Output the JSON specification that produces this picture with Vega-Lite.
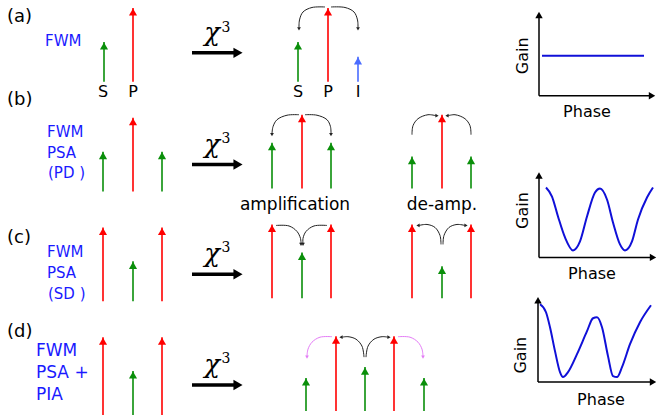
{
  "$schema": "https://vega.github.io/schema/vega-lite/v6.json",
  "width": 657,
  "height": 416,
  "autosize": {"type": "fit", "contains": "padding"},
  "padding": 0,
  "background": "white",
  "config": {"view": {"stroke": null}},
  "datasets": {
    "arrows": [
      {"x": 104, "y": 82, "tip": 42, "kind": "signal"},
      {"x": 133, "y": 82, "tip": 8, "kind": "pump"},
      {"x": 298, "y": 82, "tip": 42, "kind": "signal"},
      {"x": 328, "y": 82, "tip": 8, "kind": "pump"},
      {"x": 358, "y": 82, "tip": 57, "kind": "idler"},
      {"x": 103, "y": 192, "tip": 152, "kind": "signal"},
      {"x": 133, "y": 192, "tip": 118, "kind": "pump"},
      {"x": 162, "y": 192, "tip": 152, "kind": "signal"},
      {"x": 272, "y": 189, "tip": 143, "kind": "signal"},
      {"x": 302, "y": 189, "tip": 115, "kind": "pump"},
      {"x": 331, "y": 189, "tip": 143, "kind": "signal"},
      {"x": 412, "y": 189, "tip": 157, "kind": "signal"},
      {"x": 442, "y": 189, "tip": 115, "kind": "pump"},
      {"x": 471, "y": 189, "tip": 157, "kind": "signal"},
      {"x": 103, "y": 302, "tip": 228, "kind": "pump"},
      {"x": 133, "y": 302, "tip": 262, "kind": "signal"},
      {"x": 162, "y": 302, "tip": 228, "kind": "pump"},
      {"x": 272, "y": 299, "tip": 225, "kind": "pump"},
      {"x": 302, "y": 299, "tip": 253, "kind": "signal"},
      {"x": 331, "y": 299, "tip": 225, "kind": "pump"},
      {"x": 412, "y": 299, "tip": 225, "kind": "pump"},
      {"x": 442, "y": 299, "tip": 267, "kind": "signal"},
      {"x": 471, "y": 299, "tip": 225, "kind": "pump"},
      {"x": 103, "y": 416, "tip": 338, "kind": "pump"},
      {"x": 133, "y": 416, "tip": 372, "kind": "signal"},
      {"x": 162, "y": 416, "tip": 338, "kind": "pump"},
      {"x": 306, "y": 412, "tip": 379, "kind": "signal"},
      {"x": 336, "y": 412, "tip": 337, "kind": "pump"},
      {"x": 365, "y": 412, "tip": 368, "kind": "signal"},
      {"x": 394, "y": 412, "tip": 337, "kind": "pump"},
      {"x": 424, "y": 412, "tip": 379, "kind": "signal"}
    ],
    "chi": [
      {"x": 192, "x2": 236, "y": 53},
      {"x": 192, "x2": 236, "y": 165},
      {"x": 192, "x2": 236, "y": 275},
      {"x": 192, "x2": 236, "y": 386}
    ],
    "axes": [
      {"x": 539, "y": 96, "x2": 539, "y2": 15},
      {"x": 539, "y": 96, "x2": 651, "y2": 96},
      {"x": 539, "y": 258, "x2": 539, "y2": 176},
      {"x": 539, "y": 258, "x2": 652, "y2": 258},
      {"x": 538, "y": 383, "x2": 538, "y2": 301},
      {"x": 538, "y": 383, "x2": 652, "y2": 383}
    ],
    "heads": [
      {"x": 238, "y": 53, "dir": "right", "grp": "chi", "kind": "black"},
      {"x": 238, "y": 165, "dir": "right", "grp": "chi", "kind": "black"},
      {"x": 238, "y": 275, "dir": "right", "grp": "chi", "kind": "black"},
      {"x": 238, "y": 386, "dir": "right", "grp": "chi", "kind": "black"},
      {"x": 539, "y": 15, "dir": "up", "grp": "ax", "kind": "black"},
      {"x": 652, "y": 96, "dir": "right", "grp": "ax", "kind": "black"},
      {"x": 539, "y": 176, "dir": "up", "grp": "ax", "kind": "black"},
      {"x": 653, "y": 258, "dir": "right", "grp": "ax", "kind": "black"},
      {"x": 538, "y": 301, "dir": "up", "grp": "ax", "kind": "black"},
      {"x": 653, "y": 383, "dir": "right", "grp": "ax", "kind": "black"},
      {"x": 299, "y": 29, "dir": "down", "grp": "arc", "kind": "black"},
      {"x": 358, "y": 29, "dir": "down", "grp": "arc", "kind": "black"},
      {"x": 272, "y": 135, "dir": "down", "grp": "arc", "kind": "black"},
      {"x": 331, "y": 135, "dir": "down", "grp": "arc", "kind": "black"},
      {"x": 437, "y": 116, "dir": "right", "grp": "arc", "kind": "black"},
      {"x": 447, "y": 116, "dir": "left", "grp": "arc", "kind": "black"},
      {"x": 301, "y": 245, "dir": "down", "grp": "arc", "kind": "black"},
      {"x": 303, "y": 245, "dir": "down", "grp": "arc", "kind": "black"},
      {"x": 418, "y": 226, "dir": "left", "grp": "arc", "kind": "black"},
      {"x": 466, "y": 226, "dir": "right", "grp": "arc", "kind": "black"},
      {"x": 341, "y": 338, "dir": "left", "grp": "arc", "kind": "black"},
      {"x": 389, "y": 338, "dir": "right", "grp": "arc", "kind": "black"},
      {"x": 307, "y": 358, "dir": "down", "grp": "arc", "kind": "magenta"},
      {"x": 423, "y": 358, "dir": "down", "grp": "arc", "kind": "magenta"}
    ],
    "arcs": [
      {"id": "aL", "i": 0, "x": 325, "y": 7, "kind": "black"},
      {"id": "aL", "i": 1, "x": 312, "y": 7.5, "kind": "black"},
      {"id": "aL", "i": 2, "x": 303, "y": 12, "kind": "black"},
      {"id": "aL", "i": 3, "x": 299.5, "y": 20, "kind": "black"},
      {"id": "aL", "i": 4, "x": 299, "y": 28, "kind": "black"},
      {"id": "aR", "i": 0, "x": 331, "y": 7, "kind": "black"},
      {"id": "aR", "i": 1, "x": 345, "y": 7.5, "kind": "black"},
      {"id": "aR", "i": 2, "x": 354, "y": 12, "kind": "black"},
      {"id": "aR", "i": 3, "x": 357.5, "y": 20, "kind": "black"},
      {"id": "aR", "i": 4, "x": 358, "y": 28, "kind": "black"},
      {"id": "bL", "i": 0, "x": 299, "y": 115, "kind": "black"},
      {"id": "bL", "i": 1, "x": 287, "y": 115.5, "kind": "black"},
      {"id": "bL", "i": 2, "x": 277, "y": 120, "kind": "black"},
      {"id": "bL", "i": 3, "x": 273, "y": 127, "kind": "black"},
      {"id": "bL", "i": 4, "x": 272, "y": 134, "kind": "black"},
      {"id": "bR", "i": 0, "x": 305, "y": 115, "kind": "black"},
      {"id": "bR", "i": 1, "x": 317, "y": 115.5, "kind": "black"},
      {"id": "bR", "i": 2, "x": 327, "y": 120, "kind": "black"},
      {"id": "bR", "i": 3, "x": 330.5, "y": 127, "kind": "black"},
      {"id": "bR", "i": 4, "x": 331, "y": 134, "kind": "black"},
      {"id": "dL", "i": 0, "x": 412, "y": 135, "kind": "black"},
      {"id": "dL", "i": 1, "x": 413, "y": 126, "kind": "black"},
      {"id": "dL", "i": 2, "x": 418, "y": 119, "kind": "black"},
      {"id": "dL", "i": 3, "x": 428, "y": 115, "kind": "black"},
      {"id": "dL", "i": 4, "x": 436, "y": 116, "kind": "black"},
      {"id": "dR", "i": 0, "x": 471, "y": 135, "kind": "black"},
      {"id": "dR", "i": 1, "x": 470, "y": 126, "kind": "black"},
      {"id": "dR", "i": 2, "x": 465, "y": 119, "kind": "black"},
      {"id": "dR", "i": 3, "x": 455, "y": 115, "kind": "black"},
      {"id": "dR", "i": 4, "x": 448, "y": 116, "kind": "black"},
      {"id": "cL", "i": 0, "x": 276, "y": 226, "kind": "black"},
      {"id": "cL", "i": 1, "x": 289, "y": 226.5, "kind": "black"},
      {"id": "cL", "i": 2, "x": 297, "y": 232, "kind": "black"},
      {"id": "cL", "i": 3, "x": 300.5, "y": 239, "kind": "black"},
      {"id": "cL", "i": 4, "x": 301, "y": 244, "kind": "black"},
      {"id": "cR", "i": 0, "x": 327, "y": 226, "kind": "black"},
      {"id": "cR", "i": 1, "x": 314, "y": 226.5, "kind": "black"},
      {"id": "cR", "i": 2, "x": 306, "y": 232, "kind": "black"},
      {"id": "cR", "i": 3, "x": 303, "y": 239, "kind": "black"},
      {"id": "cR", "i": 4, "x": 303, "y": 244, "kind": "black"},
      {"id": "eL", "i": 0, "x": 441, "y": 245, "kind": "black"},
      {"id": "eL", "i": 1, "x": 440, "y": 236, "kind": "black"},
      {"id": "eL", "i": 2, "x": 435, "y": 228, "kind": "black"},
      {"id": "eL", "i": 3, "x": 427, "y": 225, "kind": "black"},
      {"id": "eL", "i": 4, "x": 419, "y": 226, "kind": "black"},
      {"id": "eR", "i": 0, "x": 443, "y": 245, "kind": "black"},
      {"id": "eR", "i": 1, "x": 444, "y": 236, "kind": "black"},
      {"id": "eR", "i": 2, "x": 449, "y": 228, "kind": "black"},
      {"id": "eR", "i": 3, "x": 457, "y": 225, "kind": "black"},
      {"id": "eR", "i": 4, "x": 465, "y": 226, "kind": "black"},
      {"id": "fL", "i": 0, "x": 364, "y": 358, "kind": "black"},
      {"id": "fL", "i": 1, "x": 362, "y": 347, "kind": "black"},
      {"id": "fL", "i": 2, "x": 356, "y": 340, "kind": "black"},
      {"id": "fL", "i": 3, "x": 348, "y": 337.5, "kind": "black"},
      {"id": "fL", "i": 4, "x": 342, "y": 338, "kind": "black"},
      {"id": "fR", "i": 0, "x": 366, "y": 358, "kind": "black"},
      {"id": "fR", "i": 1, "x": 368, "y": 347, "kind": "black"},
      {"id": "fR", "i": 2, "x": 374, "y": 340, "kind": "black"},
      {"id": "fR", "i": 3, "x": 382, "y": 337.5, "kind": "black"},
      {"id": "fR", "i": 4, "x": 388, "y": 338, "kind": "black"},
      {"id": "mL", "i": 0, "x": 332, "y": 337.5, "kind": "magenta"},
      {"id": "mL", "i": 1, "x": 320, "y": 338, "kind": "magenta"},
      {"id": "mL", "i": 2, "x": 312, "y": 343, "kind": "magenta"},
      {"id": "mL", "i": 3, "x": 308, "y": 350, "kind": "magenta"},
      {"id": "mL", "i": 4, "x": 307, "y": 357, "kind": "magenta"},
      {"id": "mR", "i": 0, "x": 398, "y": 337.5, "kind": "magenta"},
      {"id": "mR", "i": 1, "x": 410, "y": 338, "kind": "magenta"},
      {"id": "mR", "i": 2, "x": 418, "y": 343, "kind": "magenta"},
      {"id": "mR", "i": 3, "x": 422, "y": 350, "kind": "magenta"},
      {"id": "mR", "i": 4, "x": 423, "y": 357, "kind": "magenta"}
    ],
    "gain": [
      {"id": "a", "i": 0, "x": 542, "y": 56},
      {"id": "a", "i": 1, "x": 644, "y": 56},
      {"id": "b", "i": 0, "x": 546, "y": 188},
      {"id": "b", "i": 1, "x": 552, "y": 197},
      {"id": "b", "i": 2, "x": 558, "y": 217},
      {"id": "b", "i": 3, "x": 565, "y": 238},
      {"id": "b", "i": 4, "x": 573, "y": 251},
      {"id": "b", "i": 5, "x": 580, "y": 242},
      {"id": "b", "i": 6, "x": 587, "y": 217},
      {"id": "b", "i": 7, "x": 595, "y": 193},
      {"id": "b", "i": 8, "x": 600, "y": 189},
      {"id": "b", "i": 9, "x": 607, "y": 200},
      {"id": "b", "i": 10, "x": 613, "y": 223},
      {"id": "b", "i": 11, "x": 620, "y": 245},
      {"id": "b", "i": 12, "x": 625, "y": 251},
      {"id": "b", "i": 13, "x": 632, "y": 242},
      {"id": "b", "i": 14, "x": 638, "y": 220},
      {"id": "b", "i": 15, "x": 647, "y": 198},
      {"id": "b", "i": 16, "x": 653, "y": 188},
      {"id": "d", "i": 0, "x": 540, "y": 305},
      {"id": "d", "i": 1, "x": 546, "y": 313},
      {"id": "d", "i": 2, "x": 550, "y": 328},
      {"id": "d", "i": 3, "x": 555, "y": 352},
      {"id": "d", "i": 4, "x": 560, "y": 373},
      {"id": "d", "i": 5, "x": 563, "y": 378},
      {"id": "d", "i": 6, "x": 568, "y": 373},
      {"id": "d", "i": 7, "x": 577, "y": 355},
      {"id": "d", "i": 8, "x": 587, "y": 332},
      {"id": "d", "i": 9, "x": 593, "y": 319},
      {"id": "d", "i": 10, "x": 597, "y": 318},
      {"id": "d", "i": 11, "x": 602, "y": 328},
      {"id": "d", "i": 12, "x": 608, "y": 357},
      {"id": "d", "i": 13, "x": 613, "y": 377},
      {"id": "d", "i": 14, "x": 617, "y": 378},
      {"id": "d", "i": 15, "x": 622, "y": 368},
      {"id": "d", "i": 16, "x": 630, "y": 345},
      {"id": "d", "i": 17, "x": 640, "y": 323},
      {"id": "d", "i": 18, "x": 651, "y": 306}
    ],
    "texts": [
      {"t": "(a)", "x": 7, "y": 17, "st": "panel"},
      {"t": "(b)", "x": 7, "y": 100, "st": "panel"},
      {"t": "(c)", "x": 7, "y": 239, "st": "panel"},
      {"t": "(d)", "x": 7, "y": 333, "st": "panel"},
      {"t": "FWM", "x": 45, "y": 41, "st": "blue"},
      {"t": "FWM", "x": 47, "y": 132, "st": "blue"},
      {"t": "PSA", "x": 47, "y": 153, "st": "blue"},
      {"t": "(PD )", "x": 48, "y": 173, "st": "blue"},
      {"t": "FWM", "x": 47, "y": 253, "st": "blue"},
      {"t": "PSA", "x": 47, "y": 274, "st": "blue"},
      {"t": "(SD )", "x": 48, "y": 295, "st": "blue"},
      {"t": "FWM", "x": 36, "y": 352, "st": "blueL"},
      {"t": "PSA +", "x": 36, "y": 374, "st": "blueL"},
      {"t": "PIA", "x": 36, "y": 396, "st": "blueL"},
      {"t": "S", "x": 103, "y": 92, "st": "lab"},
      {"t": "P", "x": 133, "y": 92, "st": "lab"},
      {"t": "S", "x": 298, "y": 92, "st": "lab"},
      {"t": "P", "x": 328, "y": 92, "st": "lab"},
      {"t": "I", "x": 358, "y": 92, "st": "lab"},
      {"t": "amplification", "x": 295, "y": 205, "st": "amp"},
      {"t": "de-amp.", "x": 442, "y": 205, "st": "amp"},
      {"t": "Gain", "x": 523, "y": 56, "st": "gain"},
      {"t": "Gain", "x": 523, "y": 211, "st": "gain"},
      {"t": "Gain", "x": 521, "y": 356, "st": "gain"},
      {"t": "Phase", "x": 587, "y": 112, "st": "phase"},
      {"t": "Phase", "x": 592, "y": 275, "st": "phase"},
      {"t": "Phase", "x": 601, "y": 401, "st": "phase"},
      {"t": "χ", "x": 212, "y": 41, "st": "chi"},
      {"t": "χ", "x": 212, "y": 153, "st": "chi"},
      {"t": "χ", "x": 212, "y": 263, "st": "chi"},
      {"t": "χ", "x": 212, "y": 374, "st": "chi"},
      {"t": "3", "x": 226, "y": 32, "st": "three"},
      {"t": "3", "x": 226, "y": 143, "st": "three"},
      {"t": "3", "x": 226, "y": 253, "st": "three"},
      {"t": "3", "x": 226, "y": 364, "st": "three"}
    ]
  },
  "layer": [
    {
      "data": {"name": "gain"},
      "mark": {"type": "line", "interpolate": "monotone", "color": "#1010d8", "strokeWidth": 2},
      "encoding": {
        "x": {"field": "x", "type": "quantitative", "scale": {"domain": [0, 657], "nice": false, "zero": false}, "axis": null},
        "y": {"field": "y", "type": "quantitative", "scale": {"domain": [0, 416], "nice": false, "zero": false, "reverse": true}, "axis": null},
        "detail": {"field": "id"},
        "order": {"field": "i", "type": "quantitative"}
      }
    },
    {
      "data": {"name": "arcs"},
      "mark": {"type": "line", "interpolate": "catmull-rom", "strokeWidth": 1},
      "encoding": {
        "x": {"field": "x", "type": "quantitative", "scale": {"domain": [0, 657], "nice": false, "zero": false}, "axis": null},
        "y": {"field": "y", "type": "quantitative", "scale": {"domain": [0, 416], "nice": false, "zero": false, "reverse": true}, "axis": null},
        "detail": {"field": "id"},
        "order": {"field": "i", "type": "quantitative"},
        "color": {"field": "kind", "type": "nominal", "scale": {"domain": ["signal", "pump", "idler", "black", "magenta"], "range": ["#0a8f0a", "#ff0000", "#4a6cff", "#222222", "#e47cf6"]}, "legend": null}
      }
    },
    {
      "data": {"name": "arrows"},
      "mark": {"type": "rule", "strokeWidth": 1.6},
      "encoding": {
        "x": {"field": "x", "type": "quantitative", "scale": {"domain": [0, 657], "nice": false, "zero": false}, "axis": null},
        "y": {"field": "y", "type": "quantitative", "scale": {"domain": [0, 416], "nice": false, "zero": false, "reverse": true}, "axis": null},
        "y2": {"field": "tip"},
        "color": {"field": "kind", "type": "nominal", "scale": {"domain": ["signal", "pump", "idler", "black", "magenta"], "range": ["#0a8f0a", "#ff0000", "#4a6cff", "#222222", "#e47cf6"]}, "legend": null}
      }
    },
    {
      "data": {"name": "arrows"},
      "mark": {"type": "point", "shape": "triangle-up", "filled": true, "opacity": 1, "size": 66, "yOffset": 4},
      "encoding": {
        "x": {"field": "x", "type": "quantitative", "scale": {"domain": [0, 657], "nice": false, "zero": false}, "axis": null},
        "y": {"field": "tip", "type": "quantitative", "scale": {"domain": [0, 416], "nice": false, "zero": false, "reverse": true}, "axis": null},
        "color": {"field": "kind", "type": "nominal", "scale": {"domain": ["signal", "pump", "idler", "black", "magenta"], "range": ["#0a8f0a", "#ff0000", "#4a6cff", "#222222", "#e47cf6"]}, "legend": null}
      }
    },
    {
      "data": {"name": "chi"},
      "mark": {"type": "rule", "strokeWidth": 3.5, "color": "black"},
      "encoding": {
        "x": {"field": "x", "type": "quantitative", "scale": {"domain": [0, 657], "nice": false, "zero": false}, "axis": null},
        "x2": {"field": "x2"},
        "y": {"field": "y", "type": "quantitative", "scale": {"domain": [0, 416], "nice": false, "zero": false, "reverse": true}, "axis": null}
      }
    },
    {
      "data": {"name": "axes"},
      "mark": {"type": "rule", "strokeWidth": 1.5, "color": "black"},
      "encoding": {
        "x": {"field": "x", "type": "quantitative", "scale": {"domain": [0, 657], "nice": false, "zero": false}, "axis": null},
        "x2": {"field": "x2"},
        "y": {"field": "y", "type": "quantitative", "scale": {"domain": [0, 416], "nice": false, "zero": false, "reverse": true}, "axis": null},
        "y2": {"field": "y2"}
      }
    },
    {
      "data": {"name": "heads"},
      "transform": [{"filter": "datum.grp == 'chi'"}],
      "mark": {"type": "point", "filled": true, "opacity": 1, "size": 110, "color": "black"},
      "encoding": {
        "x": {"field": "x", "type": "quantitative", "scale": {"domain": [0, 657], "nice": false, "zero": false}, "axis": null},
        "y": {"field": "y", "type": "quantitative", "scale": {"domain": [0, 416], "nice": false, "zero": false, "reverse": true}, "axis": null},
        "shape": {"field": "dir", "type": "nominal", "scale": {"domain": ["up", "down", "left", "right"], "range": ["triangle-up", "triangle-down", "triangle-left", "triangle-right"]}, "legend": null}
      }
    },
    {
      "data": {"name": "heads"},
      "transform": [{"filter": "datum.grp == 'ax'"}],
      "mark": {"type": "point", "filled": true, "opacity": 1, "size": 55, "color": "black"},
      "encoding": {
        "x": {"field": "x", "type": "quantitative", "scale": {"domain": [0, 657], "nice": false, "zero": false}, "axis": null},
        "y": {"field": "y", "type": "quantitative", "scale": {"domain": [0, 416], "nice": false, "zero": false, "reverse": true}, "axis": null},
        "shape": {"field": "dir", "type": "nominal", "scale": {"domain": ["up", "down", "left", "right"], "range": ["triangle-up", "triangle-down", "triangle-left", "triangle-right"]}, "legend": null}
      }
    },
    {
      "data": {"name": "heads"},
      "transform": [{"filter": "datum.grp == 'arc'"}],
      "mark": {"type": "point", "filled": true, "opacity": 1, "size": 14},
      "encoding": {
        "x": {"field": "x", "type": "quantitative", "scale": {"domain": [0, 657], "nice": false, "zero": false}, "axis": null},
        "y": {"field": "y", "type": "quantitative", "scale": {"domain": [0, 416], "nice": false, "zero": false, "reverse": true}, "axis": null},
        "shape": {"field": "dir", "type": "nominal", "scale": {"domain": ["up", "down", "left", "right"], "range": ["triangle-up", "triangle-down", "triangle-left", "triangle-right"]}, "legend": null},
        "color": {"field": "kind", "type": "nominal", "scale": {"domain": ["signal", "pump", "idler", "black", "magenta"], "range": ["#0a8f0a", "#ff0000", "#4a6cff", "#222222", "#e47cf6"]}, "legend": null}
      }
    },
    {
      "data": {"name": "texts"},
      "transform": [{"filter": "datum.st == 'panel'"}],
      "mark": {"type": "text", "font": "DejaVu Sans", "fontSize": 18, "align": "left", "baseline": "middle", "color": "black"},
      "encoding": {
        "x": {"field": "x", "type": "quantitative", "scale": {"domain": [0, 657], "nice": false, "zero": false}, "axis": null},
        "y": {"field": "y", "type": "quantitative", "scale": {"domain": [0, 416], "nice": false, "zero": false, "reverse": true}, "axis": null},
        "text": {"field": "t"}
      }
    },
    {
      "data": {"name": "texts"},
      "transform": [{"filter": "datum.st == 'blue'"}],
      "mark": {"type": "text", "font": "DejaVu Sans", "fontSize": 15, "align": "left", "baseline": "middle", "color": "#1a1aff"},
      "encoding": {
        "x": {"field": "x", "type": "quantitative", "scale": {"domain": [0, 657], "nice": false, "zero": false}, "axis": null},
        "y": {"field": "y", "type": "quantitative", "scale": {"domain": [0, 416], "nice": false, "zero": false, "reverse": true}, "axis": null},
        "text": {"field": "t"}
      }
    },
    {
      "data": {"name": "texts"},
      "transform": [{"filter": "datum.st == 'blueL'"}],
      "mark": {"type": "text", "font": "DejaVu Sans", "fontSize": 17, "align": "left", "baseline": "middle", "color": "#1a1aff"},
      "encoding": {
        "x": {"field": "x", "type": "quantitative", "scale": {"domain": [0, 657], "nice": false, "zero": false}, "axis": null},
        "y": {"field": "y", "type": "quantitative", "scale": {"domain": [0, 416], "nice": false, "zero": false, "reverse": true}, "axis": null},
        "text": {"field": "t"}
      }
    },
    {
      "data": {"name": "texts"},
      "transform": [{"filter": "datum.st == 'lab'"}],
      "mark": {"type": "text", "font": "DejaVu Sans", "fontSize": 16, "align": "center", "baseline": "middle", "color": "black"},
      "encoding": {
        "x": {"field": "x", "type": "quantitative", "scale": {"domain": [0, 657], "nice": false, "zero": false}, "axis": null},
        "y": {"field": "y", "type": "quantitative", "scale": {"domain": [0, 416], "nice": false, "zero": false, "reverse": true}, "axis": null},
        "text": {"field": "t"}
      }
    },
    {
      "data": {"name": "texts"},
      "transform": [{"filter": "datum.st == 'amp'"}],
      "mark": {"type": "text", "font": "DejaVu Sans", "fontSize": 17, "align": "center", "baseline": "middle", "color": "black"},
      "encoding": {
        "x": {"field": "x", "type": "quantitative", "scale": {"domain": [0, 657], "nice": false, "zero": false}, "axis": null},
        "y": {"field": "y", "type": "quantitative", "scale": {"domain": [0, 416], "nice": false, "zero": false, "reverse": true}, "axis": null},
        "text": {"field": "t"}
      }
    },
    {
      "data": {"name": "texts"},
      "transform": [{"filter": "datum.st == 'gain'"}],
      "mark": {"type": "text", "font": "DejaVu Sans", "fontSize": 16, "align": "center", "baseline": "middle", "angle": 270, "color": "black"},
      "encoding": {
        "x": {"field": "x", "type": "quantitative", "scale": {"domain": [0, 657], "nice": false, "zero": false}, "axis": null},
        "y": {"field": "y", "type": "quantitative", "scale": {"domain": [0, 416], "nice": false, "zero": false, "reverse": true}, "axis": null},
        "text": {"field": "t"}
      }
    },
    {
      "data": {"name": "texts"},
      "transform": [{"filter": "datum.st == 'phase'"}],
      "mark": {"type": "text", "font": "DejaVu Sans", "fontSize": 16, "align": "center", "baseline": "middle", "color": "black"},
      "encoding": {
        "x": {"field": "x", "type": "quantitative", "scale": {"domain": [0, 657], "nice": false, "zero": false}, "axis": null},
        "y": {"field": "y", "type": "quantitative", "scale": {"domain": [0, 416], "nice": false, "zero": false, "reverse": true}, "axis": null},
        "text": {"field": "t"}
      }
    },
    {
      "data": {"name": "texts"},
      "transform": [{"filter": "datum.st == 'chi'"}],
      "mark": {"type": "text", "font": "DejaVu Serif", "fontStyle": "italic", "fontSize": 26, "align": "center", "baseline": "alphabetic", "color": "black"},
      "encoding": {
        "x": {"field": "x", "type": "quantitative", "scale": {"domain": [0, 657], "nice": false, "zero": false}, "axis": null},
        "y": {"field": "y", "type": "quantitative", "scale": {"domain": [0, 416], "nice": false, "zero": false, "reverse": true}, "axis": null},
        "text": {"field": "t"}
      }
    },
    {
      "data": {"name": "texts"},
      "transform": [{"filter": "datum.st == 'three'"}],
      "mark": {"type": "text", "font": "DejaVu Serif", "fontSize": 14, "align": "center", "baseline": "alphabetic", "color": "black"},
      "encoding": {
        "x": {"field": "x", "type": "quantitative", "scale": {"domain": [0, 657], "nice": false, "zero": false}, "axis": null},
        "y": {"field": "y", "type": "quantitative", "scale": {"domain": [0, 416], "nice": false, "zero": false, "reverse": true}, "axis": null},
        "text": {"field": "t"}
      }
    }
  ]
}
